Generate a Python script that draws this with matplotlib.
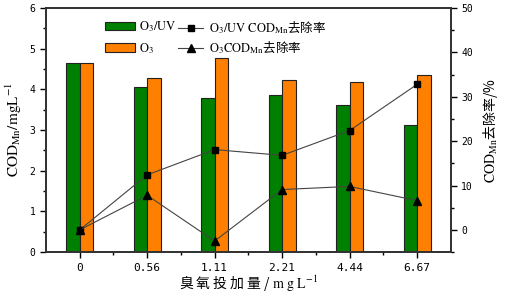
import numpy as np
import matplotlib
matplotlib.use("Agg")
import matplotlib.pyplot as plt
from matplotlib.patches import Patch
from matplotlib.lines import Line2D

plt.rcParams['font.family'] = ['Liberation Serif', 'Noto Sans CJK SC', 'DejaVu Sans']
plt.rcParams['mathtext.fontset'] = 'stix'
cjk = 'Noto Sans CJK SC'

doses = ['0', '0.56', '1.11', '2.21', '4.44', '6.67']
cod_o3uv = [4.64, 4.06, 3.80, 3.86, 3.61, 3.12]
cod_o3 = [4.64, 4.28, 4.76, 4.23, 4.19, 4.35]
rem_o3uv = [0.0, 12.4, 18.1, 16.8, 22.4, 32.8]
rem_o3 = [0.0, 7.8, -2.5, 9.1, 9.8, 6.6]

fig = plt.figure(figsize=(5.10, 2.98), dpi=100)
ax = fig.add_axes([0.090, 0.154, 0.794, 0.819])
x = np.arange(len(doses))
w = 0.2
ax.bar(x - w / 2, cod_o3uv, w, color='#008000', edgecolor='#222222', linewidth=0.8, zorder=2)
ax.bar(x + w / 2, cod_o3, w, color='#FF8000', edgecolor='#222222', linewidth=0.8, zorder=2)
ax.set_xlim(-0.5, 5.5)
ax.set_ylim(0, 6)
ax.set_xticks(x)
ax.set_xticks(x[:-1] + 0.5, minor=True)
ax.set_xticklabels(doses)
ax.set_yticks(np.arange(0, 7, 1))
ax.set_yticks(np.arange(0.5, 6, 1), minor=True)

ax2 = ax.twinx()
ax2.plot(x, rem_o3uv, color='#444444', lw=0.8, marker='s', ms=5, mfc='black', mec='black', zorder=3)
ax2.plot(x, rem_o3, color='#444444', lw=0.8, marker='^', ms=6, mfc='black', mec='black', zorder=3)
ax2.set_ylim(-5, 50)
ax2.set_yticks(np.arange(0, 51, 10))
ax2.set_yticks(np.arange(-5, 50, 10), minor=True)

for a in (ax, ax2):
    for s in a.spines.values():
        s.set_linewidth(1.3)
        s.set_color('#333333')
    a.tick_params(which='major', direction='out', length=4, width=1, labelsize=7)
    a.tick_params(which='minor', direction='out', length=2.5, width=1)
    for lab in a.get_yticklabels():
        lab.set_fontfamily('DejaVu Sans Mono')
for lab in ax.get_xticklabels():
    lab.set_fontfamily('DejaVu Sans Mono')
    lab.set_fontsize(8)

ax.set_ylabel(r'$\mathrm{COD_{Mn}/mgL^{-1}}$', fontsize=11)
ax2.set_ylabel(r'$\mathrm{COD_{Mn}}$去除率/%', family=cjk, fontsize=10, rotation=90, labelpad=6)
ax.set_xlabel(r'臭 氧 投 加 量 / $\mathrm{m\ g\ L^{-1}}$', family=cjk, fontsize=10, labelpad=1)

h1 = [Patch(facecolor='#008000', edgecolor='#222222', lw=0.8),
      Patch(facecolor='#FF8000', edgecolor='#222222', lw=0.8)]
leg1 = ax2.legend(h1, [r'$\mathrm{O_3/UV}$', r'$\mathrm{O_3}$'], loc='upper left',
                  bbox_to_anchor=(0.118, 1.0), frameon=False, fontsize=9,
                  handlelength=2.4, handleheight=0.65, labelspacing=0.55, handletextpad=0.35)
ax2.add_artist(leg1)
h2 = [Line2D([], [], color='#444444', lw=0.8, marker='s', ms=5, mfc='black', mec='black'),
      Line2D([], [], color='#444444', lw=0.8, marker='^', ms=6, mfc='black', mec='black')]
leg2 = ax2.legend(h2, [r'$\mathrm{O_3/UV\ COD_{Mn}}$去除率', r'$\mathrm{O_3COD_{Mn}}$去除率'],
                  loc='upper left', bbox_to_anchor=(0.299, 1.0), frameon=False,
                  handlelength=2.0, labelspacing=0.3, handletextpad=0.45,
                  prop={'family': cjk, 'size': 9})

fig.savefig('out.png', dpi=100)
